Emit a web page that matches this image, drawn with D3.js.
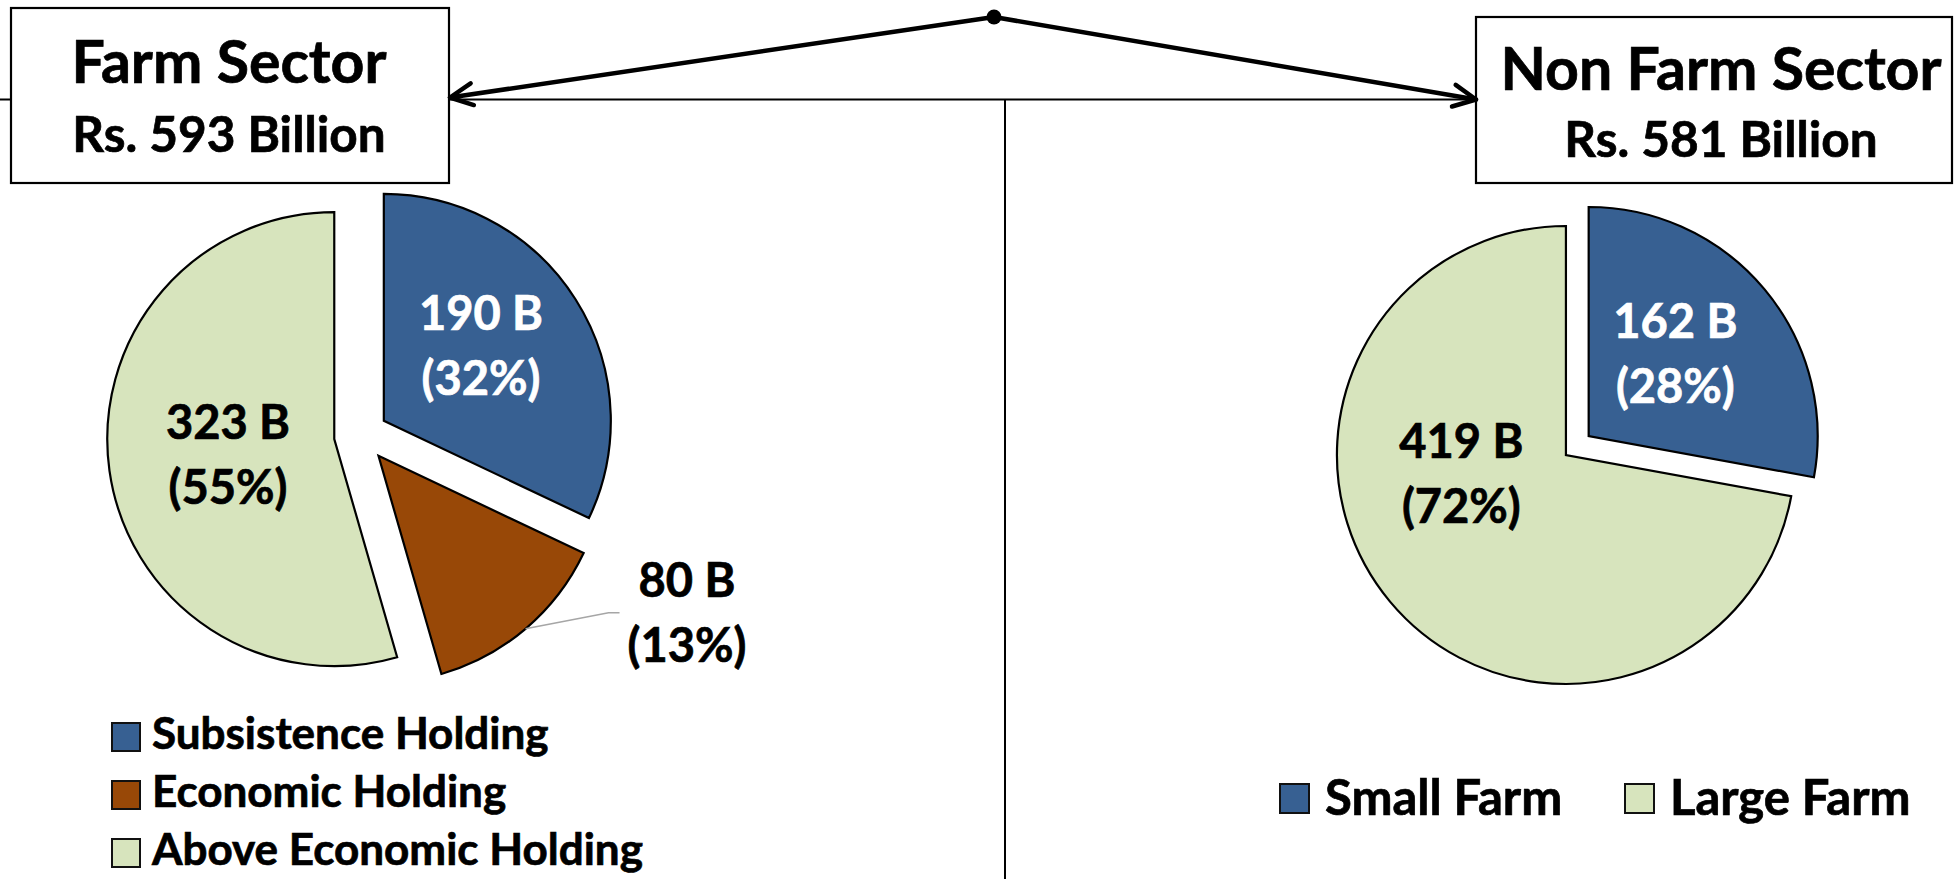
<!DOCTYPE html>
<html>
<head>
<meta charset="utf-8">
<title>Farm and Non Farm Sector</title>
<script src="https://cdn.jsdelivr.net/npm/d3@7"></script>
<style>
  html, body { margin: 0; padding: 0; background: #ffffff; }
  svg { display: block; }
  text { font-family: Lato, "Open Sans", sans-serif; font-weight: 700; stroke-width: 0.7px; }
</style>
</head>
<body>
<svg id="chart" width="1956" height="879"></svg>
<script>
// ---- data -------------------------------------------------------------
const farmCategories = ["Subsistence Holding", "Economic Holding", "Above Economic Holding"];
const farmValues = [190, 80, 323];          // Rs. billion
const farmShares = ["32%", "13%", "55%"];

const nonFarmCategories = ["Small Farm", "Large Farm"];
const nonFarmValues = [162, 419];           // Rs. billion
const nonFarmShares = ["28%", "72%"];

const sectorTitles = ["Farm Sector", "Non Farm Sector"];
const sectorTotals = [593, 581];            // Rs. billion

// ---- styling -----------------------------------------------------------
const palette = {
  "Subsistence Holding": "#376092",
  "Economic Holding": "#984807",
  "Above Economic Holding": "#D7E4BD",
  "Small Farm": "#376092",
  "Large Farm": "#D7E4BD"
};
const labelInk = {
  "Subsistence Holding": "#ffffff",
  "Small Farm": "#ffffff"
};

const svg = d3.select("#chart");

// ---- connector lines and sector boxes ------------------------------------
const lines = svg.append("g").attr("stroke", "#000").attr("fill", "none");
lines.append("line").attr("x1", 0).attr("x2", 1476).attr("y1", 99.5).attr("y2", 99.5).attr("stroke-width", 2);
lines.append("line").attr("x1", 1005).attr("x2", 1005).attr("y1", 99.5).attr("y2", 879).attr("stroke-width", 2);

const boxes = [
  { x0: 11, y0: 8, x1: 449, y1: 183, tx: 229, b1: 83, b2: 152 },
  { x0: 1476, y0: 17, x1: 1952, y1: 183, tx: 1721, b1: 90, b2: 157 }
];
boxes.forEach((b, i) => {
  const g = svg.append("g");
  g.append("rect")
    .attr("x", b.x0).attr("y", b.y0)
    .attr("width", b.x1 - b.x0).attr("height", b.y1 - b.y0)
    .attr("fill", "#fff").attr("stroke", "#000").attr("stroke-width", 2.2);
  g.append("text").attr("x", b.tx).attr("y", b.b1)
    .attr("text-anchor", "middle").attr("font-size", 59)
    .attr("fill", "#000").attr("stroke", "#000")
    .text(sectorTitles[i]);
  g.append("text").attr("x", b.tx).attr("y", b.b2)
    .attr("text-anchor", "middle").attr("font-size", 49.5)
    .attr("fill", "#000").attr("stroke", "#000")
    .text(`Rs. ${sectorTotals[i]} Billion`);
});

// split arrows from a common node to each box
const node = [994, 17];
const tips = [[450, 97.5], [1476, 99.5]];
const arrows = svg.append("g").attr("stroke", "#000").attr("fill", "none")
  .attr("stroke-width", 4.5).attr("stroke-linecap", "round").attr("stroke-linejoin", "round");
tips.forEach(t => {
  arrows.append("line").attr("x1", node[0]).attr("y1", node[1]).attr("x2", t[0]).attr("y2", t[1]);
  const back = Math.atan2(node[1] - t[1], node[0] - t[0]);
  const len = 25, spread = 26 * Math.PI / 180;
  const barb = d3.line()([
    [t[0] + len * Math.cos(back - spread), t[1] + len * Math.sin(back - spread)],
    t,
    [t[0] + len * Math.cos(back + spread), t[1] + len * Math.sin(back + spread)]
  ]);
  arrows.append("path").attr("d", barb);
});
svg.append("circle").attr("cx", node[0]).attr("cy", node[1]).attr("r", 7.5).attr("fill", "#000");

// ---- pies ----------------------------------------------------------------
function drawPie(cfg) {
  const data = cfg.categories.map((c, i) => ({ category: c, value: cfg.values[i], share: cfg.shares[i] }));
  const arcs = d3.pie().sort(null).value(d => d.value)(data);
  const arc = d3.arc().innerRadius(0).outerRadius(cfg.radius);
  const g = svg.append("g").attr("transform", `translate(${cfg.cx},${cfg.cy})`);

  arcs.forEach((a, i) => {
    const mid = (a.startAngle + a.endAngle) / 2;
    const ox = Math.sin(mid) * cfg.explode, oy = -Math.cos(mid) * cfg.explode;
    const sg = g.append("g").attr("transform", `translate(${ox},${oy})`);
    sg.append("path")
      .attr("d", arc(a))
      .attr("fill", palette[a.data.category])
      .attr("stroke", "#000").attr("stroke-width", 2.2).attr("stroke-linejoin", "miter");

    const lp = cfg.labels[i];
    if (lp.outside) {
      // leader from the arc midpoint to a label beside the slice
      const ax = ox + Math.sin(mid) * cfg.radius, ay = oy - Math.cos(mid) * cfg.radius;
      g.append("path")
        .attr("d", d3.line()([[ax, ay], [ax + 83, ay - 16], [ax + 94, ay - 16]]))
        .attr("fill", "none").attr("stroke", "#a6a6a6").attr("stroke-width", 1.6);
    }
    const ink = labelInk[a.data.category] || "#000";
    const t = g.append("text")
      .attr("text-anchor", "middle").attr("font-size", cfg.labelSize)
      .attr("fill", ink).attr("stroke", ink);
    t.append("tspan").attr("x", lp.dx).attr("y", lp.dy).text(`${a.data.value} B`);
    t.append("tspan").attr("x", lp.dx).attr("y", lp.dy + cfg.lineGap).text(`(${a.data.share})`);
  });
}

drawPie({
  categories: farmCategories, values: farmValues, shares: farmShares,
  cx: 361, cy: 435.3, radius: 227, explode: 27, labelSize: 47, lineGap: 65,
  labels: [{ dx: 120, dy: -105 }, { dx: 326, dy: 162, outside: true }, { dx: -133, dy: 4 }]
});
drawPie({
  categories: nonFarmCategories, values: nonFarmValues, shares: nonFarmShares,
  cx: 1577.3, cy: 445.5, radius: 229, explode: 14.8, labelSize: 47, lineGap: 65,
  labels: [{ dx: 98, dy: -108 }, { dx: -116, dy: 12 }]
});

// ---- legends -------------------------------------------------------------
function swatch(g, x, y, size, category) {
  g.append("rect").attr("x", x).attr("y", y).attr("width", size).attr("height", size)
    .attr("fill", palette[category]).attr("stroke", "#111").attr("stroke-width", 2);
}

const legendFarm = svg.append("g");
farmCategories.forEach((c, i) => {
  const y = 723 + i * 58;
  swatch(legendFarm, 112, y, 28, c);
  legendFarm.append("text").attr("x", 152).attr("y", y + 26).attr("font-size", 44)
    .attr("fill", "#000").attr("stroke", "#000").text(c);
});

const legendNonFarm = svg.append("g");
const nfX = [1280, 1625];
nonFarmCategories.forEach((c, i) => {
  swatch(legendNonFarm, nfX[i], 784, 29, c);
  legendNonFarm.append("text").attr("x", nfX[i] + 45).attr("y", 815).attr("font-size", 49)
    .attr("fill", "#000").attr("stroke", "#000").text(c);
});
</script>
</body>
</html>
